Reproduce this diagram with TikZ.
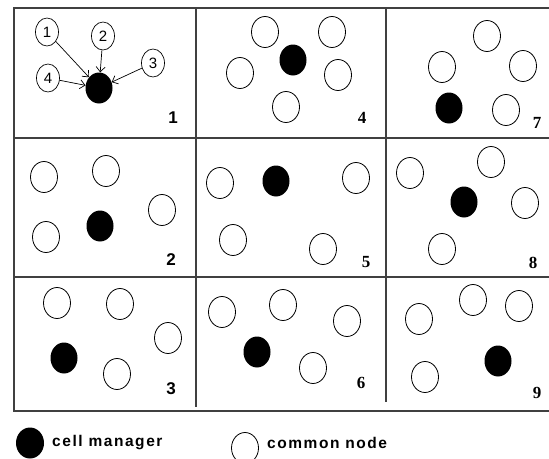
\documentclass[tikz,border=0pt]{standalone}
\usepackage{fontspec}
\setmainfont{Liberation Serif}
\setsansfont{Liberation Sans}
\newfontfamily\legendfont[LetterSpace=10]{Liberation Sans}
\usetikzlibrary{shapes.geometric}
\usetikzlibrary{arrows.meta}
\tikzstyle{commonnode} = [draw, ellipse, minimum width=27pt, minimum height=31pt, inner sep=0pt, line width=0.8pt]
\tikzstyle{managernode} = [fill=black, ellipse, minimum width=27pt, minimum height=31pt, inner sep=0pt]
\tikzstyle{numnode} = [draw, ellipse, minimum width=23pt, minimum height=28pt, inner sep=0pt, line width=0.7pt, font=\sffamily\fontsize{15}{15}\selectfont]
\tikzstyle{gridline} = [line width=1.3pt, color=black!75]
\tikzstyle{sanslabel} = [font=\sffamily\bfseries\fontsize{17}{17}\selectfont]
\tikzstyle{seriflabel} = [font=\rmfamily\bfseries\fontsize{17}{17}\selectfont]
\tikzstyle{legendtext} = [font=\legendfont\bfseries\fontsize{15.5}{15.5}\selectfont, anchor=west, inner sep=0pt]

\begin{document}
\begin{tikzpicture}[x=1pt, y=-1pt]
\useasboundingbox (0,0) rectangle (549,458);
% grid
\draw[gridline] (549,8) -- (14,8) -- (14,411) -- (549,411);
\draw[gridline] (14,138) -- (549,138);
\draw[gridline] (14,277) -- (549,277);
\draw[gridline] (196,8) -- (196,407);
\draw[gridline] (386,8) -- (386,402);

% cell 1
\node[numnode] (n1) at (47,32) {1};
\node[numnode] (n2) at (103,36) {2};
\node[numnode] (n3) at (153,63) {3};
\node[numnode] (n4) at (48,78) {4};
\node[managernode] (m1) at (99,88) {};
\draw[-{Straight Barb[length=5pt,width=9pt]}, line width=0.7pt] (n1) -- (m1);
\draw[-{Straight Barb[length=5pt,width=9pt]}, line width=0.7pt] (n2) -- (m1);
\draw[-{Straight Barb[length=5pt,width=9pt]}, line width=0.7pt] (n3) -- (m1);
\draw[-{Straight Barb[length=5pt,width=9pt]}, line width=0.7pt] (n4) -- (m1);
\node[sanslabel] (lab1) at (173,118) {1};

% cell 2
\node[commonnode] (c2a) at (44,177) {};
\node[commonnode] (c2b) at (106,171) {};
\node[commonnode] (c2c) at (162,210) {};
\node[commonnode] (c2d) at (46,237) {};
\node[managernode] (m2) at (100,226) {};
\node[sanslabel] (lab2) at (171,260) {2};

% cell 3
\node[commonnode] (c3a) at (57,303) {};
\node[commonnode] (c3b) at (120,304) {};
\node[commonnode] (c3c) at (168,338) {};
\node[commonnode] (c3d) at (117,374) {};
\node[managernode] (m3) at (64,358) {};
\node[sanslabel] (lab3) at (171,389) {3};

% cell 4
\node[commonnode] (c4a) at (265,32) {};
\node[commonnode] (c4b) at (332,32) {};
\node[commonnode] (c4c) at (240,73) {};
\node[commonnode] (c4d) at (338,75) {};
\node[commonnode] (c4e) at (286,107) {};
\node[managernode] (m4) at (293,60) {};
\node[seriflabel] (lab4) at (362,118) {4};

% cell 5
\node[commonnode] (c5a) at (220,183) {};
\node[commonnode] (c5b) at (356,178) {};
\node[commonnode] (c5c) at (233,240) {};
\node[commonnode] (c5d) at (323,249) {};
\node[managernode] (m5) at (276,181) {};
\node[seriflabel] (lab5) at (366,262) {5};

% cell 6
\node[commonnode] (c6a) at (222,312) {};
\node[commonnode] (c6b) at (283,305) {};
\node[commonnode] (c6c) at (347,321) {};
\node[commonnode] (c6d) at (313,368) {};
\node[managernode] (m6) at (257,352) {};
\node[seriflabel] (lab6) at (361,383) {6};

% cell 7
\node[commonnode] (c7a) at (487,36) {};
\node[commonnode] (c7b) at (442,67) {};
\node[commonnode] (c7c) at (523,66) {};
\node[commonnode] (c7d) at (506,110) {};
\node[managernode] (m7) at (449,108) {};
\node[seriflabel] (lab7) at (537,123) {7};

% cell 8
\node[commonnode] (c8a) at (410,173) {};
\node[commonnode] (c8b) at (491,162) {};
\node[commonnode] (c8c) at (525,203) {};
\node[commonnode] (c8d) at (442,249) {};
\node[managernode] (m8) at (464,202) {};
\node[seriflabel] (lab8) at (533,263) {8};

% cell 9
\node[commonnode] (c9a) at (419,319) {};
\node[commonnode] (c9b) at (473,300) {};
\node[commonnode] (c9c) at (519,306) {};
\node[commonnode] (c9d) at (425,377) {};
\node[managernode] (m9) at (498,361) {};
\node[seriflabel] (lab9) at (537,393) {9};

% legend
\node[managernode, minimum width=28pt] (keymanager) at (30,443) {};
\node[legendtext] (keymanagertext) at (52,443) {cell manager};
\node[commonnode] (keycommon) at (245,448) {};
\node[legendtext] (keycommontext) at (267,443) {common node};
\end{tikzpicture}
\end{document}
